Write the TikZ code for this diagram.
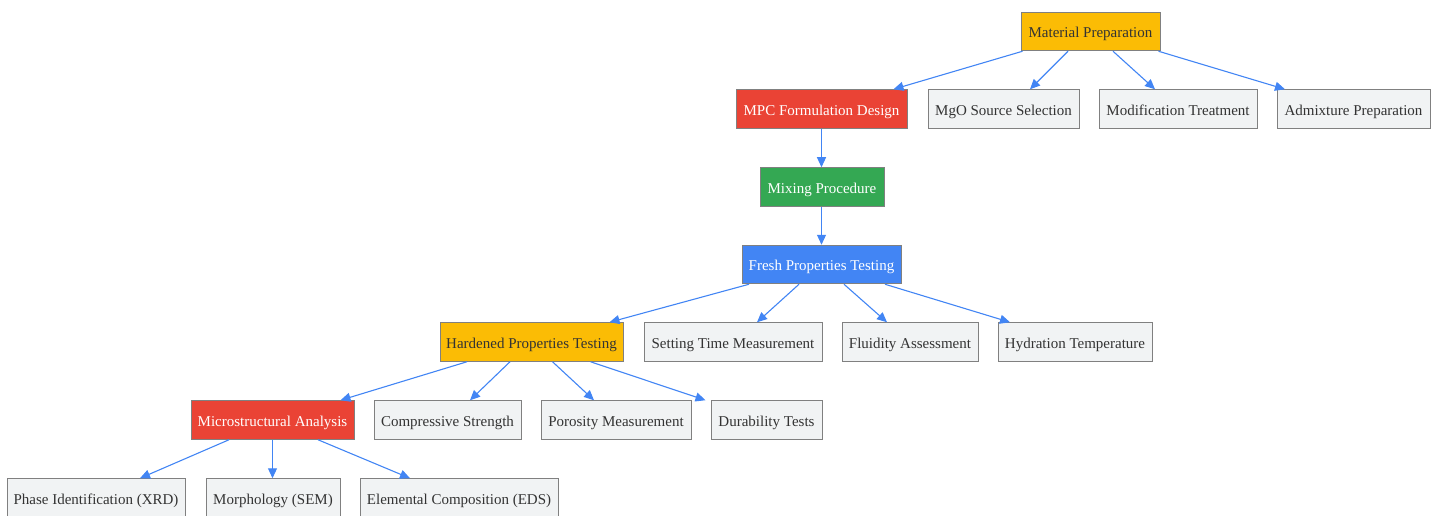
\documentclass[tikz,border=0pt]{standalone}
\usepackage{fontspec}
\setmainfont{Liberation Serif}
\usetikzlibrary{arrows.meta}
\definecolor{gyellow}{HTML}{FBBC05}
\definecolor{gred}{HTML}{EA4335}
\definecolor{ggreen}{HTML}{34A853}
\definecolor{gblue}{HTML}{4285F4}
\definecolor{ggrey}{HTML}{F1F3F4}
\definecolor{gborder}{HTML}{808080}
\definecolor{gtext}{HTML}{333333}
\tikzset{
  box/.style={draw=gborder, line width=1pt, minimum height=38.5pt, inner xsep=0pt, inner ysep=0pt,
    text height=15.5pt, text depth=3pt,
    font=\fontsize{15pt}{18pt}\selectfont, anchor=center},
  plain/.style={box, fill=ggrey, text=gtext},
  ybox/.style={box, fill=gyellow, text=gtext},
  rbox/.style={box, fill=gred, text=white},
  gbox/.style={box, fill=ggreen, text=white},
  bbox/.style={box, fill=gblue, text=white},
  edge/.style={draw=gblue, line width=1.1pt, -{Triangle[length=10pt,width=9pt]}}
}
\begin{document}
\begin{tikzpicture}[x=1pt,y=-1pt]
\useasboundingbox (0,0) rectangle (1438,516);
% level 0
\node[ybox, minimum width=139pt] (mp) at (1090.5,31.5) {Material Preparation};
% level 1
\node[rbox, minimum width=171pt] (mpc) at (821.5,109) {MPC Formulation Design};
\node[plain, minimum width=151pt] (mgo) at (1003.5,109) {MgO Source Selection};
\node[plain, minimum width=158pt] (mod) at (1178,109) {Modification Treatment};
\node[plain, minimum width=153pt] (adm) at (1353.5,109) {Admixture Preparation};
% level 2
\node[gbox, minimum width=124pt] (mix) at (822,187) {Mixing Procedure};
% level 3
\node[bbox, minimum width=159pt] (fresh) at (821.5,264.5) {Fresh Properties Testing};
% level 4
\node[ybox, minimum width=183pt] (hard) at (531.5,342) {Hardened Properties Testing};
\node[plain, minimum width=178pt] (set) at (733,342) {Setting Time Measurement};
\node[plain, minimum width=136pt] (flu) at (910,342) {Fluidity Assessment};
\node[plain, minimum width=154pt] (hyd) at (1075,342) {Hydration Temperature};
% level 5
\node[rbox, minimum width=163pt] (micro) at (272.5,420) {Microstructural Analysis};
\node[plain, minimum width=147pt] (comp) at (447.5,420) {Compressive Strength};
\node[plain, minimum width=150pt] (por) at (616,420) {Porosity Measurement};
\node[plain, minimum width=111pt] (dur) at (766.5,420) {Durability Tests};
% level 6
\node[plain, minimum width=178pt] (xrd) at (96,498) {Phase Identification (XRD)};
\node[plain, minimum width=134pt] (sem) at (273,498) {Morphology (SEM)};
\node[plain, minimum width=198pt] (eds) at (459,498) {Elemental Composition (EDS)};
% edges
\draw[edge] ([xshift=-68pt]mp.south) -- ([xshift=72pt]mpc.north);
\draw[edge] ([xshift=-22.5pt]mp.south) -- ([xshift=26.5pt]mgo.north);
\draw[edge] ([xshift=22.5pt]mp.south) -- ([xshift=-23pt]mod.north);
\draw[edge] ([xshift=68pt]mp.south) -- ([xshift=-68.5pt]adm.north);
\draw[edge] (mpc.south) -- (mix.north -| mpc.south);
\draw[edge] (mix.south -| mpc.south) -- (fresh.north -| mpc.south);
\draw[edge] ([xshift=-72.5pt]fresh.south) -- ([xshift=78pt]hard.north);
\draw[edge] ([xshift=-22.5pt]fresh.south) -- ([xshift=24pt]set.north);
\draw[edge] ([xshift=22.5pt]fresh.south) -- ([xshift=-23pt]flu.north);
\draw[edge] ([xshift=63.5pt]fresh.south) -- ([xshift=-65pt]hyd.north);
\draw[edge] ([xshift=-64.5pt]hard.south) -- ([xshift=68pt]micro.north);
\draw[edge] ([xshift=-21.5pt]hard.south) -- ([xshift=22.5pt]comp.north);
\draw[edge] ([xshift=21pt]hard.south) -- ([xshift=-22pt]por.north);
\draw[edge] ([xshift=59pt]hard.south) -- ([xshift=-61pt]dur.north);
\draw[edge] ([xshift=-43.5pt]micro.south) -- ([xshift=44pt]xrd.north);
\draw[edge] (micro.south) -- (micro.south |- sem.north);
\draw[edge] ([xshift=45.5pt]micro.south) -- ([xshift=-49pt]eds.north);
\end{tikzpicture}
\end{document}
